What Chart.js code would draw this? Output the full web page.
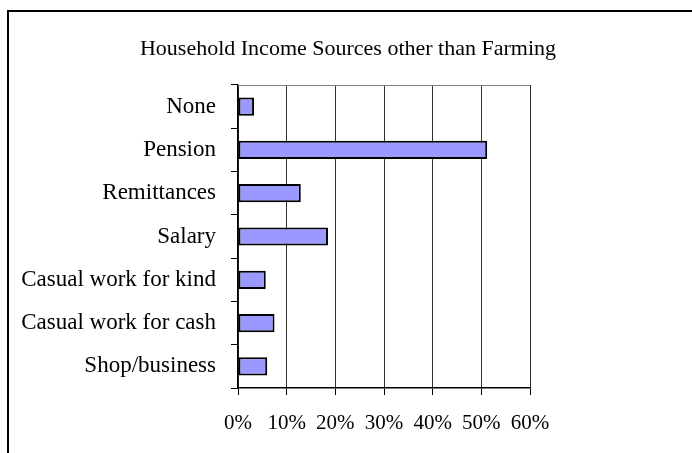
<!DOCTYPE html>
<html>
<head>
<meta charset="utf-8">
<script src="https://cdn.jsdelivr.net/npm/chart.js@4.4.1/dist/chart.umd.min.js"></script>
<style>
  html, body { margin: 0; padding: 0; background: #fff; }
  #wrap { position: relative; width: 692px; height: 453px; overflow: hidden; }
  #frame { position: absolute; left: 7px; top: 10px; width: 700px; height: 460px;
           border-top: 2px solid #000; border-left: 2px solid #000; pointer-events: none; }
  canvas { position: absolute; left: 0; top: 0; }
</style>
</head>
<body>
<div id="wrap">
  <canvas id="c" width="692" height="453"></canvas>
  <div id="frame"></div>
</div>
<script>
const chartTitle = 'Household Income Sources other than Farming';
const categories = ['None', 'Pension', 'Remittances', 'Salary', 'Casual work for kind', 'Casual work for cash', 'Shop/business'];
const shares = [3.3, 51.2, 12.9, 18.5, 5.7, 7.5, 6.0];
const xTickLabels = ['0%', '10%', '20%', '30%', '40%', '50%', '60%'];

const family = "'Liberation Serif', 'Times New Roman', serif";

const plotFrame = {
  id: 'plotFrame',
  afterDatasetsDraw(chart) {
    const a = chart.chartArea, ctx = chart.ctx;
    ctx.save();
    ctx.strokeStyle = '#808080';
    ctx.lineWidth = 1;
    ctx.beginPath();
    ctx.moveTo(a.left, a.top + 0.5);
    ctx.lineTo(a.right, a.top + 0.5);
    ctx.stroke();
    ctx.restore();
  },
  afterDraw(chart) {
    const ctx = chart.ctx;
    ctx.save();
    ctx.fillStyle = '#000';
    ctx.font = '22px ' + family;
    ctx.textAlign = 'center';
    ctx.textBaseline = 'alphabetic';
    ctx.fillText(chartTitle, 348, 55);
    ctx.restore();
  }
};

new Chart(document.getElementById('c'), {
  type: 'bar',
  data: {
    labels: categories,
    datasets: [{
      data: shares,
      backgroundColor: '#9999FF',
      borderColor: '#000000',
      borderWidth: 2,
      borderSkipped: false,
      barPercentage: 0.42,
      categoryPercentage: 1.0
    }]
  },
  options: {
    indexAxis: 'y',
    responsive: false,
    animation: false,
    devicePixelRatio: 1,
    layout: { padding: { left: 0, right: 162, top: 85, bottom: 17 } },
    plugins: {
      legend: { display: false },
      tooltip: { enabled: false },
      title: { display: false }
    },
    scales: {
      x: {
        min: 0, max: 60,
        ticks: {
          stepSize: 10,
          color: '#000',
          font: { family: family, size: 21 },
          padding: 16,
          maxRotation: 0,
          callback: (v, i) => xTickLabels[i]
        },
        grid: { color: '#333333', lineWidth: 1, tickLength: 7, tickColor: '#000' },
        border: { color: '#000', width: 1.5 },
        afterFit(s) { s.height = 48; }
      },
      y: {
        ticks: { color: '#000', font: { family: family, size: 23 }, padding: 15 },
        grid: { drawOnChartArea: false, tickLength: 7, tickColor: '#000', offset: true },
        border: { color: '#000', width: 1.5 },
        afterFit(s) { s.width = 238; }
      }
    }
  },
  plugins: [plotFrame]
});
</script>
</body>
</html>
